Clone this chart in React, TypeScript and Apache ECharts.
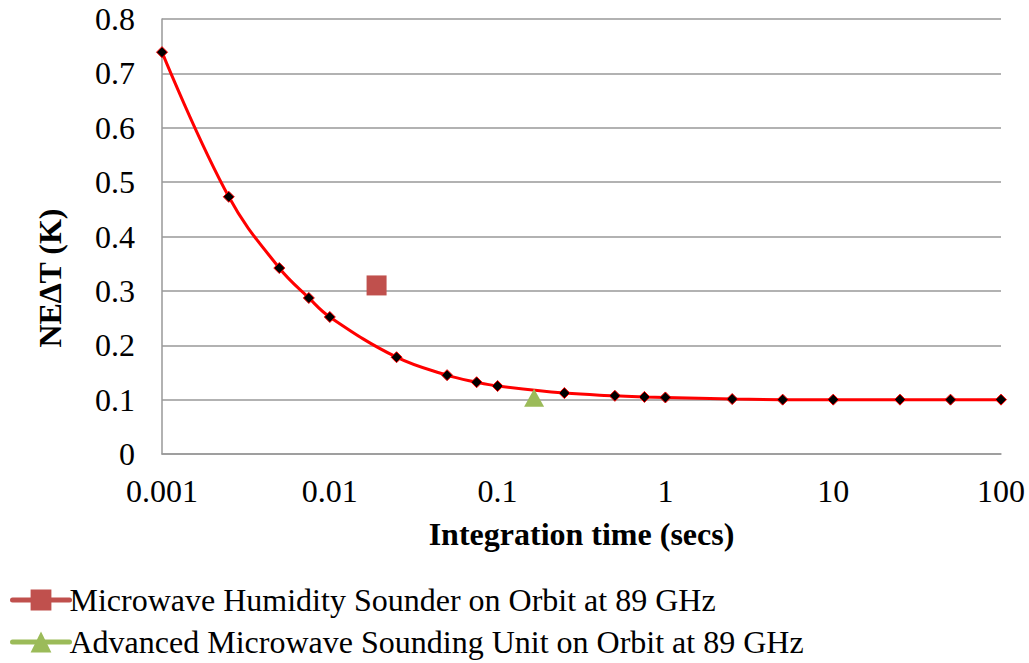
import React, { useEffect, useRef } from "react";
import * as echarts from "echarts";

const integrationTimes = [0.001, 0.0025, 0.005, 0.0075, 0.01, 0.025, 0.05, 0.075, 0.1, 0.25, 0.5, 0.75, 1, 2.5, 5, 10, 25, 50, 100];
const nedtValues = [0.739, 0.473, 0.342, 0.287, 0.252, 0.178, 0.145, 0.132, 0.125, 0.112, 0.107, 0.105, 0.104, 0.101, 0.1, 0.1, 0.1, 0.1, 0.1];
const mhsPoint = [0.019, 0.31];
const amsuPoint = [0.165, 0.1];
const mhsName = "Microwave Humidity Sounder on Orbit at 89 GHz";
const amsuName = "Advanced Microwave Sounding Unit on Orbit at 89 GHz";

const FONT = "serif";

export default function App() {
  const ref = useRef<HTMLDivElement>(null);
  useEffect(() => {
    document.body.style.margin = "0";
    const chart = echarts.init(ref.current!, null, { renderer: "svg" });
    chart.setOption({
      animation: false,
      textStyle: { fontFamily: FONT, color: "#000" },
      grid: { left: 162, right: 28, top: 19, bottom: 209 },
      legend: {
        data: [mhsName, amsuName],
        orient: "vertical",
        left: 10,
        top: 584,
        bottom: 0,
        padding: 0,
        itemWidth: 57,
        itemHeight: 26,
        itemGap: 10,
        textStyle: { fontFamily: FONT, fontSize: 32, color: "#000", padding: [0, 0, 0, -5] },
        lineStyle: { width: 5, cap: "round" },
      },
      xAxis: {
        type: "log",
        logBase: 10,
        min: 0.001,
        max: 100,
        name: "Integration time (secs)",
        nameLocation: "middle",
        nameGap: 64,
        nameTextStyle: { fontFamily: FONT, fontSize: 32, fontWeight: "bold", color: "#000" },
        axisLine: { show: true, lineStyle: { color: "#999", width: 1.5 } },
        axisTick: { show: false },
        splitLine: { show: false },
        minorTick: { show: false },
        axisLabel: { fontFamily: FONT, fontSize: 32, color: "#000", margin: 21 },
      },
      yAxis: {
        type: "value",
        min: 0,
        max: 0.8,
        interval: 0.1,
        axisLine: { show: true, lineStyle: { color: "#999", width: 1.5 } },
        axisTick: { show: false },
        splitLine: { show: true, lineStyle: { color: "#999", width: 1.5 } },
        axisLabel: { fontFamily: FONT, fontSize: 32, color: "#000", margin: 27 },
      },
      graphic: [
        {
          type: "text",
          x: 50,
          y: 278,
          rotation: Math.PI / 2,
          style: {
            text: "NE\u2206T (K)",
            fontFamily: FONT,
            fontSize: 32,
            fontWeight: "bold",
            fill: "#000",
            align: "center",
            verticalAlign: "middle",
          },
        },
      ],
      series: [
        {
          name: "curve",
          type: "line",
          smooth: 0.4,
          data: integrationTimes.map((t, i) => [t, nedtValues[i]]),
          lineStyle: { color: "#ff0000", width: 3 },
          symbol: "diamond",
          symbolSize: 11,
          itemStyle: { color: "#000", borderColor: "#ff0000", borderWidth: 1 },
          z: 2,
        },
        {
          name: mhsName,
          type: "line",
          data: [mhsPoint],
          symbol: "rect",
          symbolSize: 20,
          itemStyle: { color: "#C0504D" },
          lineStyle: { color: "#C0504D", width: 5 },
          z: 3,
        },
        {
          name: amsuName,
          type: "line",
          data: [amsuPoint],
          symbol: "triangle",
          symbolSize: [20, 18],
          symbolOffset: [0, -2],
          itemStyle: { color: "#9BBB59" },
          lineStyle: { color: "#9BBB59", width: 5 },
          z: 3,
        },
      ],
    });
    return () => chart.dispose();
  }, []);
  return <div ref={ref} style={{ width: 1029, height: 663 }} />;
}
